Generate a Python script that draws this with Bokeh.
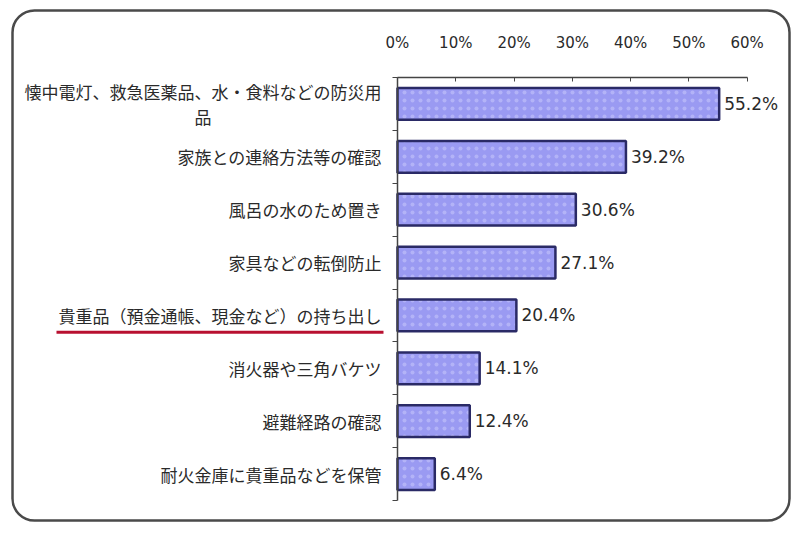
from bokeh.plotting import figure
from bokeh.models import Range1d, LinearAxis, FixedTicker, BoxAnnotation
from bokeh.core.properties import value
from bokeh.embed import file_html
from bokeh.resources import INLINE

# データ（単位: %）
names = [
    "懐中電灯、救急医薬品、水・食料などの防災用\n品",
    "家族との連絡方法等の確認",
    "風呂の水のため置き",
    "家具などの転倒防止",
    "貴重品（預金通帳、現金など）の持ち出し",
    "消火器や三角バケツ",
    "避難経路の確認",
    "耐火金庫に貴重品などを保管",
]
values = [55.2, 39.2, 30.6, 27.1, 20.4, 14.1, 12.4, 6.4]
x_ticks = [0, 10, 20, 30, 40, 50, 60]
x_tick_labels = ["0%", "10%", "20%", "30%", "40%", "50%", "60%"]
highlight = "貴重品（預金通帳、現金など）の持ち出し"

W, H = 792, 531
x_start, x_end = -68.12, 67.78
fs = 17  # 項目ラベルの文字サイズ(px)

p = figure(width=W, height=H, x_range=Range1d(x_start, x_end), y_range=Range1d(8.586, -1.456),
           output_backend="svg", toolbar_location=None,
           x_axis_location=None, y_axis_location=None,
           min_border=0, outline_line_color=None)
p.grid.grid_line_color = None

pos = [i + 0.5 for i in range(len(names))]

# 上側の目盛り軸
top = LinearAxis(fixed_location=0, bounds=(0, 60), ticker=FixedTicker(ticks=x_ticks),
                 major_label_overrides=dict(zip(x_ticks, x_tick_labels)))
top.axis_line_color = "#444444"
top.axis_line_width = 1.5
top.major_tick_in = 4
top.major_tick_out = 0
top.major_tick_line_color = "#444444"
top.minor_tick_line_color = None
top.major_label_standoff = 25
top.major_label_text_font = "DejaVu Sans"
top.major_label_text_font_size = "15px"
top.major_label_text_color = "#2a2a2a"
p.add_layout(top, "above")

# 左側の軸（項目の区切り）
left = LinearAxis(fixed_location=0, bounds=(0, len(names)),
                  ticker=FixedTicker(ticks=list(range(len(names) + 1))))
left.axis_line_color = "#444444"
left.axis_line_width = 1.5
left.major_tick_in = 0
left.major_tick_out = 5
left.major_tick_line_color = "#444444"
left.minor_tick_line_color = None
left.major_label_text_color = None
p.add_layout(left, "left")

# 棒
p.hbar(y=pos, left=0, right=values, height=0.6,
       fill_color="#9a9af2", line_color="#2a2a66", line_width=2.5,
       hatch_pattern="dot", hatch_color="#bdbdf9", hatch_scale=8, hatch_weight=1.5, hatch_alpha=0.7)

# 数値ラベル
p.text(x=values, y=pos, text=[f"{v:.1f}%" for v in values], x_offset=5,
       text_baseline="middle", text_font=value("DejaVu Sans"), text_font_size="17px",
       text_color="#2a2a2a")

# 項目ラベル（全角文字なので幅 = 文字数 × 文字サイズ）
widths = [max(len(s) for s in n.split("\n")) * fs for n in names]
p.text(x=0, y=pos, text=names, x_offset=[-(16 + w / 2) for w in widths],
       text_align="center", text_baseline="middle", text_line_height=1.0,
       text_font=value("Noto Sans CJK JP"), text_font_size=f"{fs}px", text_color="#2a2a2a")

# 強調の下線
ppx = (x_end - x_start) / W
hi = names.index(highlight)
w_hi = len(highlight) * fs
p.segment(x0=[-(16 + w_hi + 2) * ppx], x1=[-14 * ppx], y0=[pos[hi] + 0.32], y1=[pos[hi] + 0.32],
          line_color="#b81030", line_width=3)

# 角丸の枠
p.add_layout(BoxAnnotation(left=12, right=789, top=11, bottom=521,
                           left_units="screen", right_units="screen",
                           top_units="screen", bottom_units="screen",
                           fill_color=None, fill_alpha=0, line_color="#4a4a4a", line_alpha=1.0,
                           line_width=2.5, border_radius=22))

open("out.html", "w").write(file_html(p, INLINE))
